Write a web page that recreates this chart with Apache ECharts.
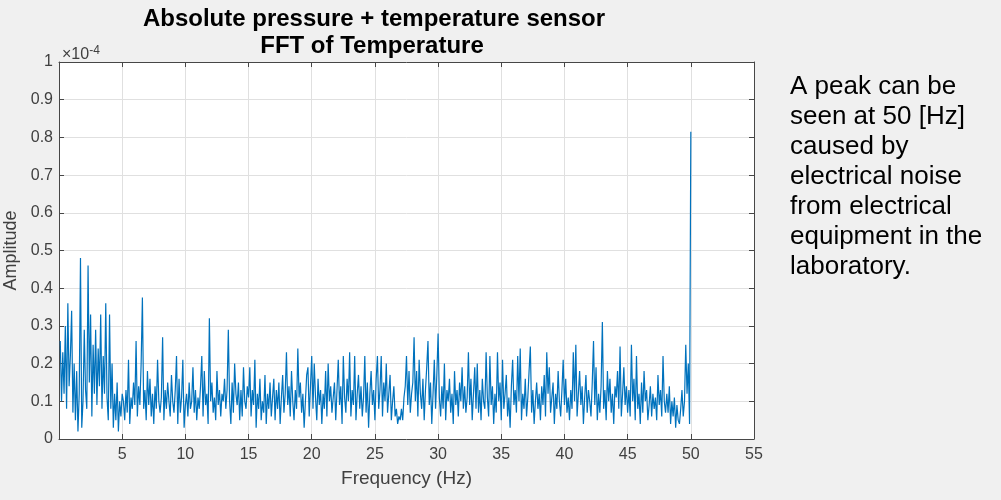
<!DOCTYPE html>
<html>
<head>
<meta charset="utf-8">
<title>FFT of Temperature</title>
<script src="https://cdn.jsdelivr.net/npm/echarts@6/dist/echarts.min.js"></script>
<style>
  html, body { margin: 0; padding: 0; background: #f0f0f0; }
  #chart { width: 1001px; height: 500px; }
</style>
</head>
<body>
<div id="chart"></div>
<script>
// Chart texts
const titleLines = ['Absolute pressure + temperature sensor', 'FFT of Temperature'];
const xAxisName = 'Frequency (Hz)';
const yAxisName = 'Amplitude';
const noteLines = [
  'A peak can be',
  'seen at 50 [Hz]',
  'caused by',
  'electrical noise',
  'from electrical',
  'equipment in the',
  'laboratory.'
];

// Axis scales (amplitude in units of 1e-4)
const xMin = 0, xMax = 55, xStep = 5;
const yMin = 0, yMax = 1, yStep = 0.1;

// FFT bins: first bin frequency and bin width (Hz)
const binStart = 0.1;
const binWidth = 0.1;

// Amplitude spectrum (x 1e-4), one value per 0.1 Hz bin
const amp0to10 = [
  0.26, 0.10, 0.23, 0.12, 0.30, 0.08, 0.36, 0.14, 0.22, 0.34,
  0.07, 0.20, 0.05, 0.18, 0.02, 0.12, 0.48, 0.03, 0.10, 0.29,
  0.13, 0.08, 0.46, 0.15, 0.33, 0.06, 0.25, 0.12, 0.29, 0.09,
  0.24, 0.14, 0.33, 0.08, 0.22, 0.12, 0.36, 0.11, 0.05, 0.33,
  0.08, 0.20, 0.03, 0.12, 0.05, 0.15, 0.02, 0.10, 0.06, 0.12,
  0.10, 0.05, 0.13, 0.07, 0.21, 0.04, 0.11, 0.08, 0.15, 0.09,
  0.26, 0.06, 0.14, 0.09, 0.20, 0.375, 0.08, 0.13, 0.05, 0.18,
  0.09, 0.16, 0.06, 0.12, 0.04, 0.14, 0.08, 0.21, 0.10, 0.07,
  0.11, 0.27, 0.05, 0.13, 0.08, 0.15, 0.10, 0.06, 0.17, 0.10,
  0.07, 0.13, 0.22, 0.04, 0.16, 0.07, 0.11, 0.21, 0.03, 0.09
];
const amp10to20 = [
  0.12, 0.06, 0.15, 0.08, 0.10, 0.19, 0.07, 0.13, 0.05, 0.11,
  0.08, 0.14, 0.22, 0.06, 0.18, 0.09, 0.12, 0.04, 0.32, 0.10,
  0.15, 0.07, 0.11, 0.05, 0.18, 0.09, 0.13, 0.06, 0.12, 0.10,
  0.16, 0.08, 0.13, 0.29, 0.10, 0.04, 0.15, 0.07, 0.20, 0.12,
  0.09, 0.15, 0.05, 0.13, 0.06, 0.19, 0.10, 0.08, 0.14, 0.11,
  0.19, 0.06, 0.13, 0.09, 0.21, 0.03, 0.12, 0.08, 0.16, 0.05,
  0.10, 0.07, 0.17, 0.04, 0.12, 0.08, 0.15, 0.06, 0.11, 0.16,
  0.05, 0.13, 0.08, 0.15, 0.04, 0.11, 0.17, 0.07, 0.12, 0.23,
  0.09, 0.14, 0.06, 0.18, 0.10, 0.05, 0.13, 0.08, 0.24, 0.11,
  0.15, 0.07, 0.12, 0.03, 0.10, 0.17, 0.19, 0.06, 0.14, 0.22
];
const amp20to30 = [
  0.08, 0.20, 0.11, 0.05, 0.16, 0.09, 0.13, 0.04, 0.12, 0.08,
  0.18, 0.06, 0.20, 0.10, 0.14, 0.07, 0.11, 0.15, 0.05, 0.13,
  0.21, 0.09, 0.14, 0.04, 0.22, 0.11, 0.07, 0.16, 0.10, 0.23,
  0.06, 0.13, 0.09, 0.22, 0.05, 0.12, 0.17, 0.08, 0.14, 0.06,
  0.11, 0.22, 0.07, 0.15, 0.03, 0.12, 0.18, 0.09, 0.13, 0.05,
  0.16, 0.22, 0.08, 0.13, 0.22, 0.06, 0.15, 0.10, 0.20, 0.07,
  0.12, 0.17, 0.05, 0.10, 0.14, 0.06, 0.08, 0.04, 0.06, 0.05,
  0.08, 0.05, 0.11, 0.14, 0.22, 0.09, 0.18, 0.07, 0.12, 0.15,
  0.27, 0.10, 0.18, 0.06, 0.21, 0.12, 0.08, 0.16, 0.05, 0.13,
  0.19, 0.26, 0.09, 0.15, 0.04, 0.12, 0.21, 0.08, 0.17, 0.28
];
const amp30to40 = [
  0.11, 0.06, 0.14, 0.08, 0.20, 0.05, 0.13, 0.10, 0.16, 0.07,
  0.12, 0.04, 0.18, 0.09, 0.13, 0.06, 0.15, 0.10, 0.19, 0.08,
  0.14, 0.07, 0.11, 0.23, 0.09, 0.16, 0.05, 0.12, 0.19, 0.08,
  0.20, 0.07, 0.13, 0.05, 0.16, 0.10, 0.08, 0.23, 0.11, 0.06,
  0.22, 0.09, 0.14, 0.04, 0.12, 0.07, 0.23, 0.10, 0.15, 0.05,
  0.21, 0.08, 0.12, 0.17, 0.06, 0.11, 0.03, 0.14, 0.21, 0.09,
  0.13, 0.07, 0.22, 0.10, 0.24, 0.05, 0.12, 0.08, 0.16, 0.06,
  0.11, 0.18, 0.245, 0.07, 0.13, 0.04, 0.10, 0.15, 0.08, 0.12,
  0.05, 0.14, 0.09, 0.17, 0.06, 0.23, 0.12, 0.19, 0.07, 0.11,
  0.15, 0.04, 0.12, 0.08, 0.18, 0.10, 0.06, 0.13, 0.21, 0.09
];
const amp40to50 = [
  0.16, 0.07, 0.11, 0.05, 0.13, 0.08, 0.23, 0.10, 0.25, 0.06,
  0.12, 0.18, 0.09, 0.14, 0.04, 0.11, 0.17, 0.07, 0.13, 0.10,
  0.06, 0.15, 0.26, 0.09, 0.19, 0.05, 0.12, 0.07, 0.14, 0.31,
  0.08, 0.13, 0.05, 0.18, 0.10, 0.16, 0.07, 0.12, 0.04, 0.14,
  0.11, 0.18, 0.08, 0.245, 0.06, 0.12, 0.19, 0.09, 0.14, 0.07,
  0.13, 0.06, 0.25, 0.10, 0.16, 0.05, 0.22, 0.08, 0.12, 0.04,
  0.15, 0.07, 0.18, 0.10, 0.13, 0.05, 0.09, 0.14, 0.06, 0.12,
  0.08, 0.11, 0.05, 0.17, 0.09, 0.13, 0.06, 0.22, 0.10, 0.07,
  0.12, 0.07, 0.14, 0.04, 0.10, 0.06, 0.11, 0.03, 0.09, 0.05,
  0.04, 0.08, 0.13, 0.06, 0.10, 0.25, 0.12, 0.20, 0.04, 0.815
];

const amplitude = [].concat(amp0to10, amp10to20, amp20to30, amp30to40, amp40to50);
const spectrum = amplitude.map((v, i) => [Number((binStart + i * binWidth).toFixed(2)), v]);

const FONT = '"Liberation Sans", Arial, Helvetica, sans-serif';
const axisColor = '#474747';
const labelColor = '#404040';
const gridColor = '#e0e0e0';
const lineColor = '#0072BD';

const chart = echarts.init(document.getElementById('chart'), null, { renderer: 'canvas' });

const frameAxis = (position) => ({
  axisLine: { show: true, onZero: false, lineStyle: { color: axisColor, width: 1 } },
  axisTick: { show: true, inside: true, length: 5, lineStyle: { color: axisColor, width: 1 } },
  position
});

chart.setOption({
  animation: false,
  backgroundColor: '#f0f0f0',
  grid: {
    left: 59, right: 247, top: 62, bottom: 61,
    outerBoundsMode: 'none',
    containLabel: false,
    show: true, backgroundColor: '#ffffff', borderWidth: 0
  },
  xAxis: [
    Object.assign(frameAxis('bottom'), {
      type: 'value', min: xMin, max: xMax, interval: xStep,
      axisLabel: {
        showMinLabel: false, color: labelColor, fontSize: 16, fontFamily: FONT, margin: 8
      },
      splitLine: { show: true, lineStyle: { color: gridColor, width: 1 } },
      name: xAxisName, nameLocation: 'middle', nameGap: 30,
      nameTextStyle: { color: labelColor, fontSize: 19, fontFamily: FONT }
    }),
    Object.assign(frameAxis('top'), {
      type: 'value', min: xMin, max: xMax, interval: xStep,
      axisLabel: { show: false }, splitLine: { show: false }
    })
  ],
  yAxis: [
    Object.assign(frameAxis('left'), {
      type: 'value', min: yMin, max: yMax, interval: yStep,
      axisLabel: {
        color: labelColor, fontSize: 16, fontFamily: FONT, margin: 6,
        formatter: (v) => String(Number(v.toFixed(1)))
      },
      splitLine: { show: true, lineStyle: { color: gridColor, width: 1 } },
      name: yAxisName, nameLocation: 'middle', nameGap: 37,
      nameTextStyle: { color: labelColor, fontSize: 18, fontFamily: FONT }
    }),
    Object.assign(frameAxis('right'), {
      type: 'value', min: yMin, max: yMax, interval: yStep,
      axisLabel: { show: false }, splitLine: { show: false }
    })
  ],
  series: [{
    type: 'line',
    xAxisIndex: 0,
    yAxisIndex: 0,
    data: spectrum,
    showSymbol: false,
    symbol: 'none',
    sampling: null,
    lineStyle: { color: lineColor, width: 1.2 },
    emphasis: { disabled: true }
  }],
  graphic: [
    {
      type: 'text', x: 374, y: 19,
      style: {
        text: titleLines[0], font: 'bold 24px ' + FONT, fill: '#000',
        textAlign: 'center', textVerticalAlign: 'middle'
      }
    },
    {
      type: 'text', x: 372, y: 46,
      style: {
        text: titleLines[1], font: 'bold 24px ' + FONT, fill: '#000',
        textAlign: 'center', textVerticalAlign: 'middle'
      }
    },
    {
      type: 'text', x: 62, y: 45,
      style: {
        rich: {
          base: { fontSize: 16, fontFamily: FONT, fill: labelColor },
          sup: { fontSize: 12, fontFamily: FONT, fill: labelColor, verticalAlign: 'top', padding: [0, 0, 7, 0] }
        },
        text: '{base|\u00d710}{sup|-4}'
      }
    },
    {
      type: 'text', x: 790, y: 72,
      style: {
        text: noteLines.join('\n'), font: '26px ' + FONT, fill: '#000',
        lineHeight: 30, textAlign: 'left', textVerticalAlign: 'top'
      }
    }
  ]
});
</script>
</body>
</html>
